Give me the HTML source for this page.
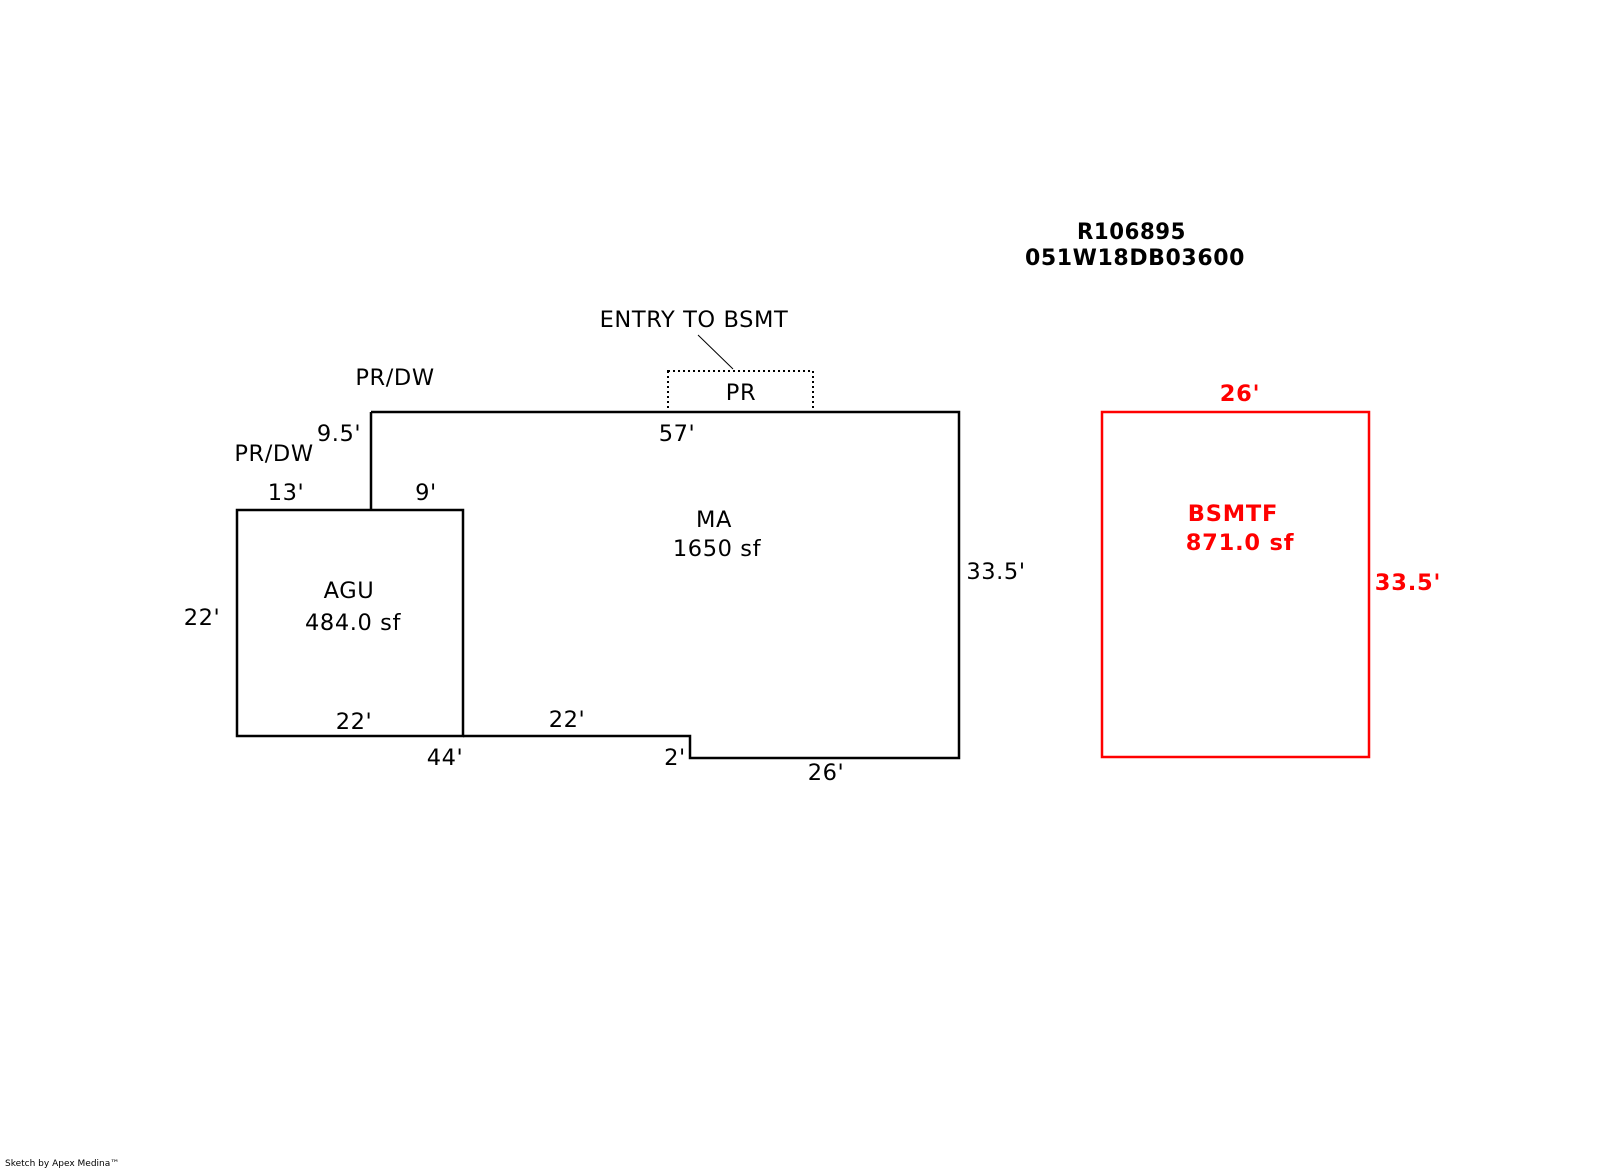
<!DOCTYPE html>
<html><head><meta charset="utf-8"><style>
html,body{margin:0;padding:0;background:#fff;}
svg{display:block;}
text{font-family:"DejaVu Sans","Liberation Sans",sans-serif;font-size:22.5px;letter-spacing:0.6px;fill:#000;}
.b{font-weight:bold;}
.r{fill:#f00;font-weight:bold;letter-spacing:0.8px;}
</style></head><body>
<svg width="1600" height="1174" viewBox="0 0 1600 1174" xmlns="http://www.w3.org/2000/svg">
<g fill="none" stroke="#000" stroke-width="2.5">
<rect x="237" y="510" width="226" height="226"/>
<line x1="371" y1="412" x2="371" y2="510"/>
<polyline points="371,412 959,412 959,758 690,758 690,736 463,736"/>
</g>
<rect x="668" y="371" width="145" height="41" fill="none" stroke="#000" stroke-width="2" stroke-dasharray="2,3"/>
<line x1="698" y1="335" x2="733" y2="369" stroke="#000" stroke-width="1"/>
<rect x="1102" y="412" width="267" height="345" fill="none" stroke="#f00" stroke-width="2.5"/>
<text class="b" x="1077" y="239" textLength="109" lengthAdjust="spacingAndGlyphs">R106895</text>
<text class="b" x="1025" y="265" textLength="220" lengthAdjust="spacingAndGlyphs">051W18DB03600</text>
<g text-anchor="middle">
<text x="694" y="327">ENTRY TO BSMT</text>
<text x="741" y="400">PR</text>
<text x="395" y="385">PR/DW</text>
<text x="339" y="441">9.5'</text>
<text x="274" y="461">PR/DW</text>
<text x="286" y="500">13'</text>
<text x="426" y="500">9'</text>
<text x="677" y="441">57'</text>
<text x="714" y="527">MA</text>
<text x="717" y="556">1650 sf</text>
<text x="996" y="579">33.5'</text>
<text x="349" y="598">AGU</text>
<text x="353" y="630">484.0 sf</text>
<text x="202" y="625">22'</text>
<text x="354" y="729">22'</text>
<text x="567" y="727">22'</text>
<text x="445" y="765">44'</text>
<text x="675" y="765">2'</text>
<text x="826" y="780">26'</text>
<text class="r" x="1233" y="521">BSMTF</text>
<text class="r" x="1240" y="550">871.0 sf</text>
<text class="r" x="1240" y="401">26'</text>
<text class="r" x="1408" y="590">33.5'</text>
</g>
<text x="5" y="1166" style="font-size:9px;letter-spacing:0">Sketch by Apex Medina™</text>
</svg>
</body></html>
